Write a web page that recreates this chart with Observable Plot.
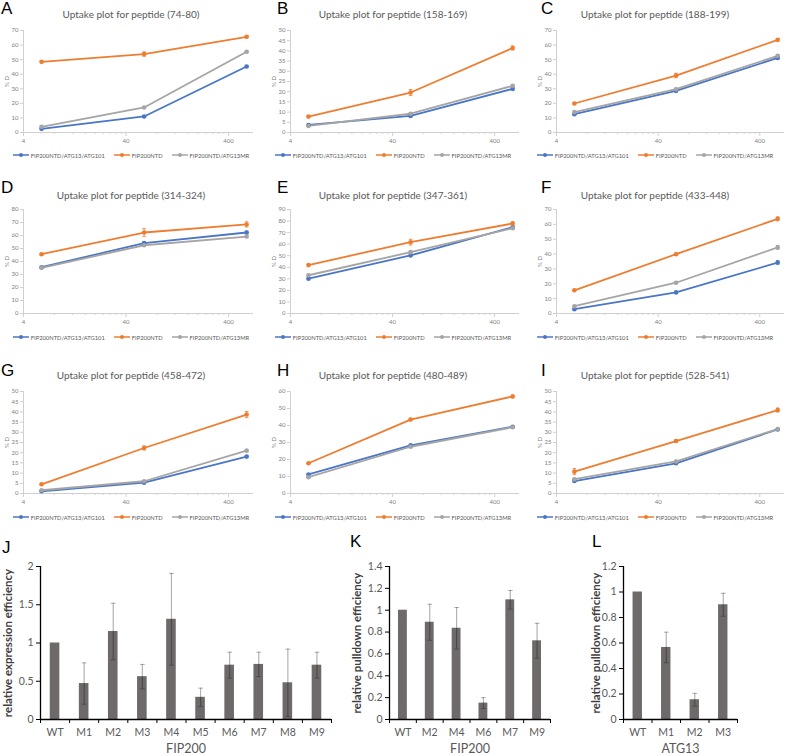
<!DOCTYPE html>
<html><head><meta charset="utf-8">
<script src="https://cdn.jsdelivr.net/npm/d3@7"></script>
<script src="https://cdn.jsdelivr.net/npm/@observablehq/plot@0.6"></script>
<style>
body{margin:0;background:#fff;}
#fig{position:relative;width:786px;height:756px;overflow:hidden;font-family:Lato,sans-serif;background:#fff;}
.abs{position:absolute;}
.letter{font-family:"Liberation Sans",Arial,sans-serif;font-size:17px;line-height:17px;color:#000;}
.title{font-family:Lato,sans-serif;font-size:10px;line-height:14px;color:#595959;text-align:center;white-space:nowrap;}
.legend{font-family:Lato,sans-serif;font-size:5.8px;color:#595959;display:flex;align-items:center;justify-content:center;white-space:nowrap;gap:9px;height:8px;}
.legend span.item{display:flex;align-items:center;gap:2px;}
</style></head><body><div id="fig"></div><script>
// ---------- data: HDX uptake plots ----------
const times = [6, 60, 600];
const seriesNames = ["FIP200NTD/ATG13/ATG101", "FIP200NTD", "FIP200NTD/ATG13MR"];
const seriesColors = ["#4a76c6", "#ED7D31", "#A5A5A5"];
const panelLetters = ["A", "B", "C", "D", "E", "F", "G", "H", "I"];
const peptides = ["74-80", "158-169", "188-199", "314-324", "347-361", "433-448", "458-472", "480-489", "528-541"];
const yMaxes = [70, 50, 70, 80, 90, 70, 50, 60, 50];
const ySteps = [10, 5, 10, 10, 10, 10, 5, 10, 5];
const xTickLabels = [4, 40, 400];
const uptakeComplex = [[2.5, 11, 45.3], [3.7, 8.1, 21.4], [12.6, 28.6, 51.2], [35.6, 54.1, 62.3], [30.1, 50.2, 74.7], [2.9, 14.2, 34.3], [1.1, 5.3, 18.1], [11.2, 28.3, 39.3], [6.1, 14.8, 31.4]];
const uptakeNTD = [[48.5, 53.8, 65.7], [7.8, 19.6, 41.4], [19.9, 39.1, 63.6], [45.6, 62.3, 68.5], [41.9, 61.7, 77.9], [15.6, 39.9, 63.7], [4.5, 22.3, 38.7], [17.8, 43.5, 57.1], [10.7, 25.7, 40.9]];
const uptakeMR = [[3.9, 17.2, 55.4], [3.2, 9.2, 22.9], [14, 29.7, 52.6], [35.1, 52.5, 59.2], [33.1, 53.1, 73.8], [4.9, 20.7, 44.5], [1.6, 6.0, 21.0], [9.6, 27.5, 39.0], [7.0, 15.7, 31.6]];
const errComplex = [[0.3, 0.5, 0.5], [0.3, 0.4, 0.5], [0.5, 0.7, 0.6], [0.5, 1, 1], [0.5, 0.8, 0.8], [0.3, 0.5, 1.2], [0.2, 0.3, 0.4], [0.3, 0.5, 0.5], [0.4, 0.5, 0.5]];
const errNTD = [[0.5, 1.5, 0.8], [0.4, 1.5, 1.0], [0.5, 1.5, 0.8], [0.8, 3, 2], [0.8, 2.5, 1.5], [0.5, 0.7, 1.3], [0.3, 1, 1.5], [0.3, 0.7, 0.8], [1.5, 0.6, 1]];
const errMR = [[0.3, 0.4, 0.4], [0.3, 0.4, 0.5], [0.5, 0.7, 0.6], [0.5, 0.8, 0.8], [0.5, 0.8, 0.8], [0.5, 0.5, 1.3], [0.2, 0.3, 0.4], [0.3, 0.5, 0.5], [0.4, 0.5, 0.5]];

// ---------- data: bar charts ----------
const jCategories = ["WT", "M1", "M2", "M3", "M4", "M5", "M6", "M7", "M8", "M9"];
const jValues = [1, 0.47, 1.15, 0.56, 1.31, 0.29, 0.71, 0.72, 0.48, 0.71];
const jErrors = [0, 0.27, 0.37, 0.16, 0.6, 0.12, 0.17, 0.16, 0.44, 0.17];
const kCategories = ["WT", "M2", "M4", "M6", "M7", "M9"];
const kValues = [1, 0.89, 0.835, 0.15, 1.095, 0.72];
const kErrors = [0, 0.165, 0.19, 0.05, 0.085, 0.16];
const lCategories = ["WT", "M1", "M2", "M3"];
const lValues = [1, 0.565, 0.155, 0.9];
const lErrors = [0, 0.12, 0.05, 0.09];

// ---------- layout helpers ----------
const fig = document.getElementById("fig");
function place(el, left, top) {
  const w = document.createElement("div");
  w.className = "abs";
  w.style.left = left + "px";
  w.style.top = top + "px";
  w.appendChild(el);
  fig.appendChild(w);
  return w;
}
function addDiv(text, cls, left, top, width) {
  const d = document.createElement("div");
  d.className = "abs " + cls;
  d.textContent = text;
  d.style.left = left + "px";
  d.style.top = top + "px";
  if (width) d.style.width = width + "px";
  fig.appendChild(d);
  return d;
}
function letter(txt, x, baseline) { addDiv(txt, "letter", x, baseline - 14.4); }

const capSymbol = {
  draw(context, size) {
    const r = Math.sqrt(size / Math.PI);
    context.moveTo(-r, 0);
    context.lineTo(r, 0);
  }
};

// ---------- uptake line charts ----------
const colStarts = [0, 262, 524];
const frameLefts = [23, 290, 556];
const frameRights = [253, 519, 784];
const frameTops = [30, 209, 391];
const frameBottoms = [132, 313, 493];
const titleCenters = [14, 195, 375];
const letterBaselines = [14, 193, 376];
const letterXs = [1, 277, 541];
const legendCenters = [155, 337, 517];
const allUptake = [uptakeComplex, uptakeNTD, uptakeMR];
const allErr = [errComplex, errNTD, errMR];
const minorTicks = xTickLabels.flatMap(d => d3.range(2, 10).map(k => d * k)).filter(v => v <= 700);

for (let i = 0; i < 9; i++) {
  const col = i % 3, row = Math.floor(i / 3);
  const cs = colStarts[col];
  const mt = 8, mb = 14, W = 262;
  const H = frameBottoms[row] - frameTops[row] + mt + mb;
  const rows = [];
  allUptake.forEach((arr, s) => times.forEach((t, j) => rows.push({series: seriesNames[s], t, v: arr[i][j], e: allErr[s][i][j]})));
  const yTicks = d3.range(0, yMaxes[i] + 1e-9, ySteps[i]);
  const chart = Plot.plot({
    width: W, height: H,
    marginLeft: frameLefts[col] - cs, marginRight: cs + W - frameRights[col],
    marginTop: mt, marginBottom: mb,
    style: {fontFamily: "Lato, sans-serif", fontSize: "6px", color: "#808080", background: "transparent", overflow: "visible"},
    x: {type: "log", domain: [4, 700]},
    y: {domain: [0, yMaxes[i]]},
    color: {domain: seriesNames, range: seriesColors},
    marks: [
      Plot.ruleY([0], {stroke: "#d0d0d0"}),
      Plot.ruleX([4], {stroke: "#d0d0d0"}),
      Plot.axisY({ticks: yTicks, tickSize: 3, tickPadding: 2, stroke: "#d0d0d0", fill: "#808080", tickFormat: d => d,
        label: "% D", labelAnchor: "center", labelOffset: 19, labelArrow: "none"}),
      Plot.axisX({ticks: xTickLabels, tickSize: 4, tickPadding: 2, stroke: "#d0d0d0", fill: "#808080", tickFormat: d => d, label: null}),
      Plot.axisX({ticks: minorTicks, tickSize: 2, stroke: "#d0d0d0", tickFormat: () => "", label: null}),
      Plot.line(rows, {x: "t", y: "v", z: "series", stroke: "series", strokeWidth: 1.8}),
      Plot.ruleX(rows, {x: "t", y1: d => d.v - d.e, y2: d => d.v + d.e, stroke: "series", strokeWidth: 0.8}),
      Plot.dot(rows, {x: "t", y: d => d.v + d.e, symbol: capSymbol, r: 1.8, stroke: "series", strokeWidth: 0.8}),
      Plot.dot(rows, {x: "t", y: d => d.v - d.e, symbol: capSymbol, r: 1.8, stroke: "series", strokeWidth: 0.8}),
      Plot.dot(rows, {x: "t", y: "v", fill: "series", r: 2.3})
    ]
  });
  place(chart, cs, frameTops[row] - mt);
  addDiv("Uptake plot for peptide (" + peptides[i] + ")", "title", cs, titleCenters[row] - 7, W);
  letter(panelLetters[i], letterXs[col], letterBaselines[row]);
  // legend
  const lg = document.createElement("div");
  lg.className = "abs legend";
  lg.style.left = cs + "px";
  lg.style.top = (legendCenters[row] - 4) + "px";
  lg.style.width = W + "px";
  seriesNames.forEach((name, s) => {
    const item = document.createElement("span");
    item.className = "item";
    item.innerHTML = `<svg width="16" height="6"><line x1="0" x2="16" y1="3" y2="3" stroke="${seriesColors[s]}" stroke-width="1.5"/><circle cx="8" cy="3" r="2" fill="${seriesColors[s]}"/></svg><span>${name}</span>`;
    lg.appendChild(item);
  });
  fig.appendChild(lg);
}

// ---------- bar charts ----------
function barChart(cats, vals, errs, cfg) {
  const n = cats.length;
  const data = cats.map((c, i) => ({i, c, v: vals[i], e: errs[i]}));
  const withErr = data.filter(d => d.e > 0);
  const mt = 10, H = 200;
  const mb = H - mt - (719 - 566);
  const step = (cfg.frameR - cfg.frameL) / n;
  const inset = step * 0.335;
  const chart = Plot.plot({
    width: cfg.width, height: H,
    marginLeft: cfg.frameL - cfg.left, marginRight: cfg.left + cfg.width - cfg.frameR,
    marginTop: mt, marginBottom: mb,
    style: {fontFamily: "Lato, sans-serif", fontSize: "10.5px", color: "#595959", background: "transparent", overflow: "visible"},
    x: {domain: [0, n]},
    y: {domain: [0, cfg.yMax]},
    marks: [
      Plot.rectY(data, {x1: "i", x2: d => d.i + 1, y: "v", fill: "#6e6a6a", insetLeft: inset, insetRight: inset}),
      Plot.ruleX(withErr, {x: d => d.i + 0.5, y1: d => d.v - d.e, y2: d => d.v + d.e, stroke: "#000", strokeOpacity: 0.3, strokeWidth: 1.2}),
      Plot.dot(withErr, {x: d => d.i + 0.5, y: d => d.v + d.e, symbol: capSymbol, r: 2.4, stroke: "#000", strokeOpacity: 0.3, strokeWidth: 1}),
      Plot.dot(withErr, {x: d => d.i + 0.5, y: d => d.v - d.e, symbol: capSymbol, r: 2.4, stroke: "#000", strokeOpacity: 0.3, strokeWidth: 1}),
      Plot.ruleY([0], {stroke: "#000", strokeWidth: 1.3}),
      Plot.ruleX([0], {stroke: "#000", strokeWidth: 1.3}),
      Plot.axisY({ticks: d3.range(0, cfg.yMax + 1e-9, cfg.yStep), tickSize: 4, tickPadding: 3, stroke: "#000", fill: "#595959", tickFormat: d => +d.toFixed(1), label: null}),
      Plot.axisX({ticks: d3.range(0, n + 1), tickSize: 4, stroke: "#000", tickFormat: () => "", label: null}),
      Plot.axisX({ticks: d3.range(n).map(i => i + 0.5), tickSize: 0, tickPadding: 9, fill: "#595959", tickFormat: d => cats[Math.floor(d)], label: null}),
      Plot.text([cfg.xLabel], {frameAnchor: "bottom", dy: 29, lineAnchor: "middle", fontSize: 12.5, fill: "#595959"}),
      Plot.text([cfg.yLabel], {frameAnchor: "left", rotate: -90, dx: -cfg.yLabelOffset, textAnchor: "middle", lineAnchor: "middle", fontWeight: "bold", fontSize: 11.5, fill: "#404040"})
    ]
  });
  place(chart, cfg.left, 566 - mt);
}

barChart(jCategories, jValues, jErrors, {left: 0, width: 345, frameL: 40, frameR: 331, yMax: 2, yStep: 0.5, xLabel: "FIP200", yLabel: "relative expression efficiency", yLabelOffset: 32});
barChart(kCategories, kValues, kErrors, {left: 345, width: 240, frameL: 389, frameR: 550, yMax: 1.4, yStep: 0.2, xLabel: "FIP200", yLabel: "relative pulldown efficiency", yLabelOffset: 32});
barChart(lCategories, lValues, lErrors, {left: 590, width: 196, frameL: 623, frameR: 737, yMax: 1.2, yStep: 0.2, xLabel: "ATG13", yLabel: "relative pulldown efficiency", yLabelOffset: 27});
letter("J", 2, 553);
letter("K", 350, 547);
letter("L", 592, 547);
</script></body></html>
